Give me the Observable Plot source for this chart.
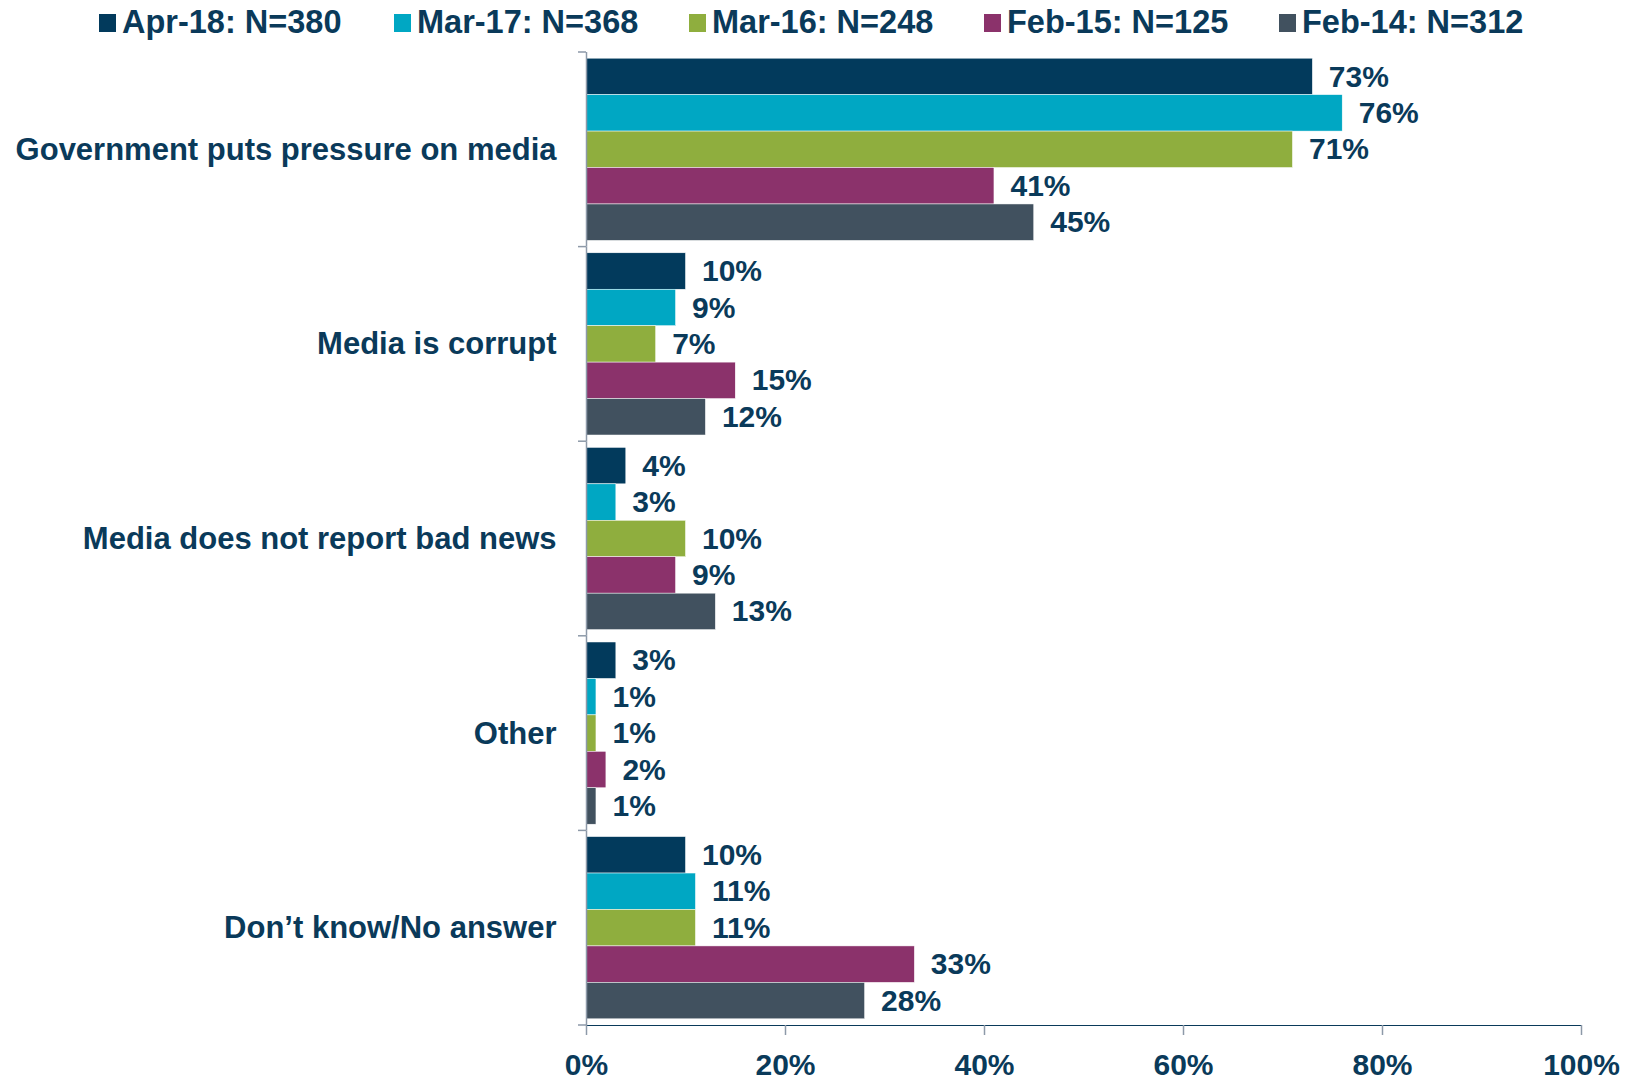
<!DOCTYPE html>
<html>
<head>
<meta charset="utf-8">
<script src="https://cdn.jsdelivr.net/npm/d3@7"></script>
<script src="https://cdn.jsdelivr.net/npm/@observablehq/plot@0.6"></script>
<style>
  html, body { margin: 0; padding: 0; background: #fff; }
  body { width: 1636px; height: 1080px; overflow: hidden; font-family: "Liberation Sans", Arial, sans-serif; }
  #legend { position: relative; height: 44px; }
  .item { position: absolute; top: 0; height: 44px; display: flex; align-items: center; font-weight: bold; font-size: 32.5px; color: #0a3a5a; white-space: nowrap; }
  .sw { width: 17px; height: 18px; margin-right: 6px; margin-top: 2px; }
</style>
</head>
<body>
<div id="legend"></div>
<div id="chart"></div>
<script>
const categories = ["Government puts pressure on media", "Media is corrupt", "Media does not report bad news", "Other", "Don\u2019t know/No answer"];
const seriesNames = ["Apr-18: N=380", "Mar-17: N=368", "Mar-16: N=248", "Feb-15: N=125", "Feb-14: N=312"];
const apr18 = [73, 10, 4, 3, 10];
const mar17 = [76, 9, 3, 1, 11];
const mar16 = [71, 7, 10, 1, 11];
const feb15 = [41, 15, 9, 2, 33];
const feb14 = [45, 12, 13, 1, 28];
const xTicks = [0, 20, 40, 60, 80, 100];
const colors = ["#023a5c", "#00a7c3", "#8fae3e", "#8b326b", "#41515f"];

const seriesValues = [apr18, mar17, mar16, feb15, feb14];
const data = [];
categories.forEach((c, i) => {
  seriesNames.forEach((s, j) => data.push({category: c, series: s, value: seriesValues[j][i]}));
});

// legend
const legend = document.getElementById("legend");
seriesNames.forEach((s, j) => {
  const it = document.createElement("div");
  it.className = "item";
  it.style.left = (99 + j * 295) + "px";
  it.innerHTML = `<span class="sw" style="background:${colors[j]}"></span><span>${s}</span>`;
  legend.appendChild(it);
});

const textColor = "#0a3a5a";
const axisColor = "#8d99a8";

const plot = Plot.plot({
  width: 1636,
  height: 1036,
  marginTop: 8,
  marginBottom: 55,
  marginLeft: 586,
  marginRight: 55,
  style: {fontFamily: "'Liberation Sans', Arial, sans-serif", fontSize: "31px", fontWeight: "bold", color: textColor, background: "#fff"},
  x: {domain: [0, 100], ticks: xTicks, tickFormat: d => d + "%", tickSize: 10, tickPadding: 18, label: null, line: true},
  y: {domain: seriesNames, axis: null, paddingInner: 0, paddingOuter: 0.17, round: false},
  fy: {domain: categories, padding: 0, label: null, tickSize: 0, tickPadding: 30, round: false},
  color: {domain: seriesNames, range: colors},
  marks: [
    Plot.barX(data, {x: "value", y: "series", fy: "category", fill: "series", stroke: "#ffffff", strokeWidth: 0.5}),
    Plot.text(data, {x: "value", y: "series", fy: "category", text: d => d.value + "%", textAnchor: "start", dx: 16, fill: textColor, fontSize: 30, fontWeight: "bold"}),
    Plot.ruleX([0], {stroke: axisColor, strokeWidth: 1.5})
  ]
});

document.getElementById("chart").appendChild(plot);

// axis styling
d3.select(plot).selectAll("[aria-label='x-axis tick'] path, [aria-label='x-axis line'] line, [aria-label='x-axis'] line, [aria-label='x-axis'] path")
  .attr("stroke", axisColor).attr("stroke-width", 1.5);
d3.select(plot).selectAll("[aria-label^='x-axis'] text").attr("fill", textColor).attr("font-size", 30);
d3.select(plot).selectAll("[aria-label^='fy-axis'] text").attr("fill", textColor).attr("dy", "0em");

// boundary ticks on the category axis
const fy = plot.scale("fy");
const xs = plot.scale("x");
const x0 = xs.apply(0);
const bounds = categories.map(c => fy.apply(c));
bounds.push(fy.apply(categories[categories.length - 1]) + fy.bandwidth);
d3.select(plot).append("g").attr("aria-label", "category boundaries")
  .selectAll("line").data(bounds).join("line")
  .attr("x1", x0 - 8).attr("x2", x0)
  .attr("y1", d => d).attr("y2", d => d)
  .attr("stroke", axisColor).attr("stroke-width", 1.5);
</script>
</body>
</html>
